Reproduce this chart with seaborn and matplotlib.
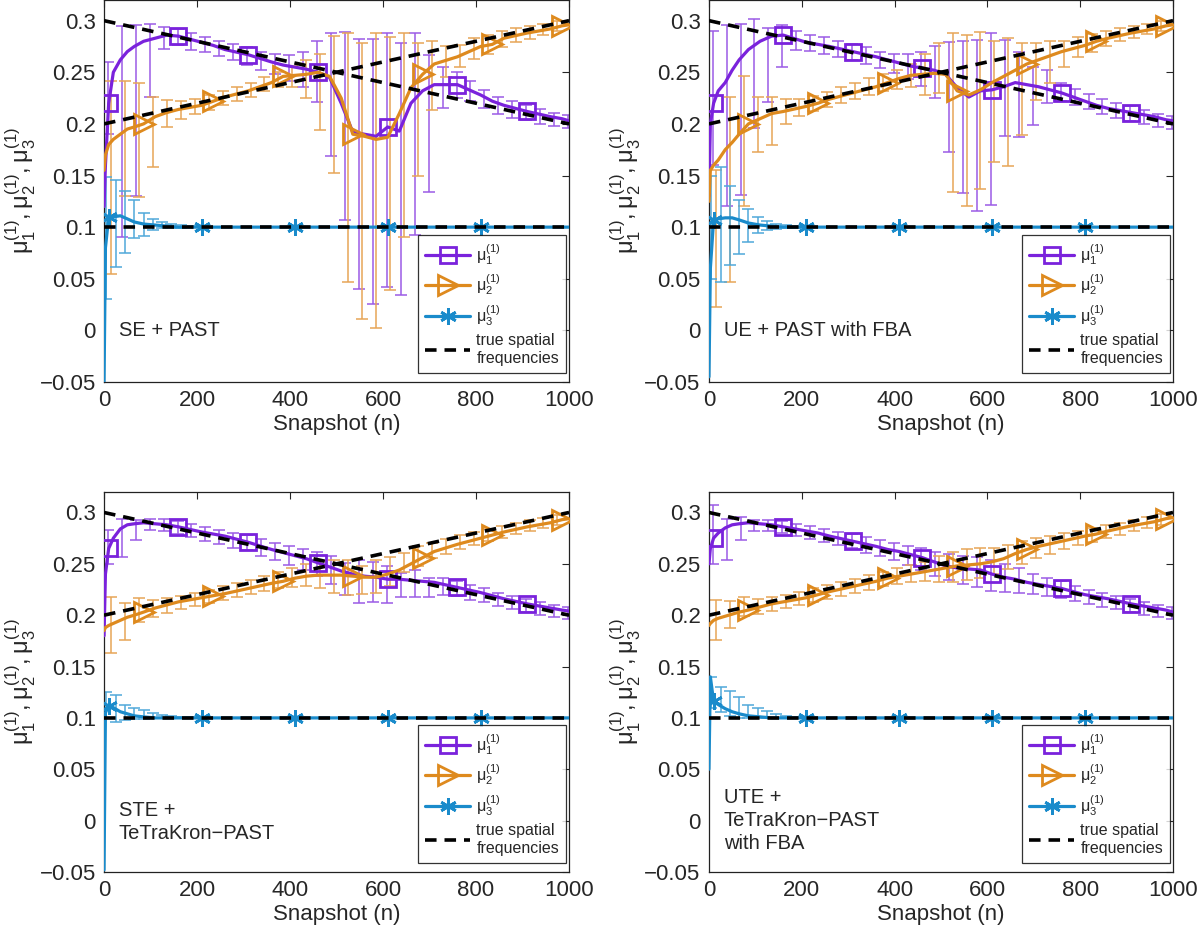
import numpy as np
import matplotlib
matplotlib.use("Agg")
import matplotlib.pyplot as plt
import seaborn as sns
from matplotlib.lines import Line2D
from matplotlib.ticker import FuncFormatter

# -------------------------------
# Data
# -------------------------------

# snapshot grid of the averaged estimates
snap = [0, 3, 10, 20, 35, 50, 65, 85, 110, 135, 160, 210, 235, 260, 310, 360, 385, 410, 435, 460,
        485, 510, 535, 560, 585, 610, 635, 660, 685, 710, 760, 810, 835, 860, 910, 960, 985, 1000]

# marker positions for each frequency
mk1_x = [10, 160, 310, 460, 610, 760, 910]
mk2_x = [85, 235, 385, 535, 685, 835, 985]
mk3_x = [10, 210, 410, 610, 810]

# true spatial frequencies
true_x = [0, 1000]
true_mu1 = [0.3, 0.2]
true_mu2 = [0.2, 0.3]
true_mu3 = [0.1, 0.1]

# SE + PAST
se_mu1 = [0.12, 0.16, 0.22, 0.25, 0.262, 0.27, 0.275, 0.28, 0.283, 0.286, 0.285, 0.279, 0.276, 0.272, 0.267, 0.26, 0.257, 0.255, 0.253, 0.25,
          0.245, 0.22, 0.192, 0.19, 0.188, 0.197, 0.193, 0.22, 0.232, 0.238, 0.238, 0.228, 0.222, 0.218, 0.212, 0.207, 0.205, 0.203]
se_mu2 = [0.155, 0.17, 0.18, 0.185, 0.19, 0.195, 0.197, 0.2, 0.207, 0.211, 0.214, 0.218, 0.222, 0.226, 0.232, 0.24, 0.246, 0.247, 0.248, 0.25,
          0.246, 0.225, 0.19, 0.188, 0.185, 0.187, 0.21, 0.235, 0.248, 0.258, 0.265, 0.275, 0.277, 0.283, 0.288, 0.292, 0.295, 0.296]
se_mu3 = [-0.05, 0.08, 0.11, 0.11, 0.111, 0.108, 0.105, 0.103, 0.102, 0.101, 0.1, 0.1, 0.1, 0.1, 0.1, 0.1, 0.1, 0.1, 0.1, 0.1,
          0.1, 0.1, 0.1, 0.1, 0.1, 0.1, 0.1, 0.1, 0.1, 0.1, 0.1, 0.1, 0.1, 0.1, 0.1, 0.1, 0.1, 0.1]

# UE + PAST with FBA
ue_mu1 = [0.13, 0.2, 0.22, 0.232, 0.24, 0.252, 0.262, 0.272, 0.28, 0.285, 0.286, 0.279, 0.277, 0.275, 0.27, 0.265, 0.262, 0.259, 0.256, 0.254,
          0.252, 0.248, 0.235, 0.226, 0.232, 0.233, 0.236, 0.24, 0.238, 0.236, 0.23, 0.222, 0.218, 0.215, 0.211, 0.207, 0.204, 0.203]
ue_mu2 = [0.125, 0.155, 0.16, 0.165, 0.175, 0.182, 0.19, 0.2, 0.205, 0.21, 0.212, 0.217, 0.22, 0.224, 0.23, 0.236, 0.24, 0.244, 0.247, 0.248,
          0.249, 0.248, 0.232, 0.228, 0.233, 0.24, 0.246, 0.252, 0.258, 0.262, 0.27, 0.276, 0.28, 0.283, 0.288, 0.292, 0.295, 0.296]
ue_mu3 = [-0.045, 0.06, 0.107, 0.108, 0.109, 0.109, 0.107, 0.104, 0.102, 0.101, 0.1, 0.1, 0.1, 0.1, 0.1, 0.1, 0.1, 0.1, 0.1, 0.1,
          0.1, 0.1, 0.1, 0.1, 0.1, 0.1, 0.1, 0.1, 0.1, 0.1, 0.1, 0.1, 0.1, 0.1, 0.1, 0.1, 0.1, 0.1]

# STE + TeTraKron-PAST
ste_mu1 = [0.18, 0.24, 0.265, 0.275, 0.284, 0.288, 0.289, 0.29, 0.289, 0.288, 0.286, 0.281, 0.279, 0.277, 0.271, 0.264, 0.261, 0.258, 0.255, 0.251,
           0.247, 0.243, 0.24, 0.238, 0.237, 0.235, 0.235, 0.234, 0.233, 0.232, 0.227, 0.222, 0.219, 0.216, 0.211, 0.207, 0.205, 0.204]
ste_mu2 = [0.185, 0.188, 0.19, 0.192, 0.195, 0.198, 0.2, 0.203, 0.207, 0.21, 0.213, 0.217, 0.219, 0.221, 0.226, 0.231, 0.233, 0.236, 0.238, 0.239,
           0.239, 0.239, 0.238, 0.237, 0.237, 0.24, 0.244, 0.25, 0.256, 0.262, 0.269, 0.275, 0.278, 0.281, 0.286, 0.29, 0.293, 0.294]
ste_mu3 = [-0.048, 0.105, 0.112, 0.11, 0.106, 0.104, 0.102, 0.101, 0.1, 0.1, 0.1, 0.1, 0.1, 0.1, 0.1, 0.1, 0.1, 0.1, 0.1, 0.1,
           0.1, 0.1, 0.1, 0.1, 0.1, 0.1, 0.1, 0.1, 0.1, 0.1, 0.1, 0.1, 0.1, 0.1, 0.1, 0.1, 0.1, 0.1]

# UTE + TeTraKron-PAST with FBA
ute_mu1 = [0.25, 0.265, 0.275, 0.28, 0.285, 0.288, 0.289, 0.29, 0.289, 0.288, 0.286, 0.282, 0.28, 0.277, 0.272, 0.267, 0.264, 0.262, 0.259, 0.256,
           0.252, 0.248, 0.246, 0.245, 0.244, 0.24, 0.237, 0.235, 0.232, 0.23, 0.226, 0.22, 0.218, 0.216, 0.211, 0.207, 0.205, 0.203]
ute_mu2 = [0.19, 0.192, 0.195, 0.197, 0.199, 0.201, 0.203, 0.205, 0.208, 0.211, 0.213, 0.217, 0.22, 0.223, 0.228, 0.233, 0.236, 0.238, 0.24, 0.242,
           0.244, 0.246, 0.248, 0.249, 0.25, 0.252, 0.255, 0.26, 0.264, 0.267, 0.272, 0.277, 0.279, 0.282, 0.287, 0.291, 0.294, 0.295]
ute_mu3 = [0.05, 0.14, 0.116, 0.113, 0.109, 0.106, 0.104, 0.102, 0.101, 0.1, 0.1, 0.1, 0.1, 0.1, 0.1, 0.1, 0.1, 0.1, 0.1, 0.1,
           0.1, 0.1, 0.1, 0.1, 0.1, 0.1, 0.1, 0.1, 0.1, 0.1, 0.1, 0.1, 0.1, 0.1, 0.1, 0.1, 0.1, 0.1]

# error bar positions
eb1_x = [8, 38, 68, 98, 128, 158, 188, 218, 248, 278, 308, 338, 368, 398, 428, 458, 488,
         518, 548, 578, 608, 638, 668, 698, 728, 758, 788, 818, 848, 878, 908, 938, 968, 998]
eb2_x = [15, 45, 75, 105, 135, 165, 195, 225, 255, 285, 315, 345, 375, 405, 435, 465, 495,
         525, 555, 585, 615, 645, 675, 705, 735, 765, 795, 825, 855, 885, 915, 945, 975]
eb3_x = [5, 25, 45, 65, 85, 105, 125, 145, 165, 185]

# error bar (low, high) ranges
se_e1 = [(0.19, 0.26), (0.09, 0.295), (0.13, 0.296), (0.226, 0.297), (0.273, 0.294), (0.276, 0.292), (0.272, 0.288),
         (0.27, 0.284), (0.266, 0.28), (0.262, 0.277), (0.257, 0.274), (0.252, 0.27), (0.248, 0.268), (0.242, 0.267),
         (0.236, 0.27), (0.221, 0.28), (0.169, 0.288), (0.107, 0.289), (0.04, 0.282), (0.026, 0.282), (0.042, 0.288),
         (0.034, 0.278), (0.092, 0.288), (0.134, 0.267), (0.215, 0.255), (0.225, 0.25), (0.222, 0.242), (0.215, 0.233),
         (0.21, 0.226), (0.206, 0.222), (0.204, 0.218), (0.2, 0.214), (0.198, 0.211), (0.196, 0.209)]
se_e2 = [(0.055, 0.242), (0.13, 0.242), (0.129, 0.24), (0.158, 0.226), (0.197, 0.223), (0.205, 0.222), (0.21, 0.224),
         (0.213, 0.228), (0.218, 0.232), (0.222, 0.236), (0.226, 0.24), (0.232, 0.245), (0.236, 0.25), (0.236, 0.256),
         (0.225, 0.262), (0.194, 0.268), (0.152, 0.285), (0.047, 0.288), (0.011, 0.278), (0.002, 0.288), (0.039, 0.284),
         (0.09, 0.288), (0.15, 0.278), (0.213, 0.28), (0.245, 0.275), (0.255, 0.276), (0.263, 0.283), (0.268, 0.286),
         (0.274, 0.29), (0.279, 0.293), (0.282, 0.295), (0.286, 0.297), (0.29, 0.3)]
se_e3 = [(0.03, 0.149), (0.061, 0.146), (0.075, 0.135), (0.089, 0.126), (0.091, 0.114), (0.097, 0.108),
         (0.099, 0.105), (0.099, 0.103), (0.0995, 0.102), (0.0998, 0.101)]

ue_e1 = [(0.16, 0.29), (0.12, 0.296), (0.131, 0.297), (0.196, 0.302), (0.221, 0.293), (0.255, 0.296), (0.272, 0.29),
         (0.271, 0.286), (0.268, 0.284), (0.265, 0.28), (0.262, 0.277), (0.258, 0.274), (0.254, 0.27), (0.249, 0.268),
         (0.243, 0.268), (0.237, 0.27), (0.225, 0.275), (0.173, 0.279), (0.133, 0.28), (0.116, 0.281), (0.121, 0.288),
         (0.188, 0.281), (0.187, 0.27), (0.199, 0.255), (0.22, 0.252), (0.222, 0.24), (0.218, 0.234), (0.214, 0.229),
         (0.21, 0.224), (0.206, 0.22), (0.203, 0.217), (0.2, 0.213), (0.197, 0.21), (0.195, 0.208)]
ue_e2 = [(0.023, 0.155), (0.047, 0.226), (0.12, 0.246), (0.173, 0.226), (0.18, 0.226), (0.2, 0.224), (0.208, 0.224),
         (0.212, 0.227), (0.216, 0.231), (0.22, 0.236), (0.224, 0.24), (0.228, 0.244), (0.232, 0.248), (0.234, 0.252),
         (0.236, 0.258), (0.228, 0.268), (0.23, 0.278), (0.134, 0.288), (0.12, 0.286), (0.137, 0.289), (0.163, 0.28),
         (0.159, 0.283), (0.189, 0.278), (0.223, 0.278), (0.24, 0.28), (0.255, 0.28), (0.265, 0.284), (0.27, 0.287),
         (0.275, 0.29), (0.28, 0.293), (0.283, 0.295), (0.287, 0.297), (0.29, 0.3)]
ue_e3 = [(0.05, 0.15), (0.047, 0.158), (0.063, 0.14), (0.074, 0.126), (0.086, 0.118), (0.094, 0.11),
         (0.097, 0.106), (0.098, 0.103), (0.099, 0.102), (0.0995, 0.101)]

ste_e1 = [(0.25, 0.283), (0.257, 0.294), (0.273, 0.293), (0.283, 0.294), (0.282, 0.294), (0.279, 0.292), (0.276, 0.289),
          (0.272, 0.286), (0.269, 0.283), (0.265, 0.28), (0.263, 0.278), (0.258, 0.274), (0.254, 0.27), (0.249, 0.267),
          (0.244, 0.264), (0.238, 0.262), (0.23, 0.258), (0.22, 0.251), (0.212, 0.254), (0.213, 0.252), (0.212, 0.248),
          (0.218, 0.241), (0.218, 0.244), (0.218, 0.236), (0.22, 0.236), (0.219, 0.233), (0.215, 0.229), (0.213, 0.226),
          (0.209, 0.222), (0.206, 0.219), (0.203, 0.216), (0.2, 0.213), (0.198, 0.21), (0.196, 0.208)]
ste_e2 = [(0.163, 0.218), (0.176, 0.212), (0.193, 0.217), (0.198, 0.215), (0.202, 0.217), (0.206, 0.219), (0.209, 0.222),
          (0.212, 0.225), (0.215, 0.228), (0.218, 0.231), (0.221, 0.234), (0.224, 0.238), (0.226, 0.242), (0.227, 0.246),
          (0.228, 0.25), (0.226, 0.253), (0.222, 0.254), (0.22, 0.254), (0.221, 0.248), (0.222, 0.254), (0.228, 0.257),
          (0.242, 0.261), (0.248, 0.267), (0.256, 0.27), (0.26, 0.274), (0.264, 0.278), (0.268, 0.281), (0.272, 0.284),
          (0.275, 0.287), (0.279, 0.29), (0.282, 0.293), (0.285, 0.295), (0.288, 0.298)]
ste_e3 = [(0.1, 0.125), (0.096, 0.122), (0.098, 0.113), (0.099, 0.11), (0.099, 0.108), (0.0995, 0.105),
          (0.0998, 0.103), (0.0999, 0.102), (0.1, 0.101), (0.1, 0.1005)]

ute_e1 = [(0.25, 0.307), (0.254, 0.294), (0.273, 0.296), (0.282, 0.293), (0.282, 0.293), (0.28, 0.292), (0.277, 0.289),
          (0.274, 0.287), (0.271, 0.284), (0.268, 0.281), (0.265, 0.279), (0.261, 0.276), (0.258, 0.273), (0.254, 0.27),
          (0.249, 0.267), (0.244, 0.265), (0.238, 0.262), (0.234, 0.26), (0.23, 0.258), (0.227, 0.257), (0.224, 0.254),
          (0.223, 0.25), (0.222, 0.246), (0.221, 0.24), (0.219, 0.236), (0.217, 0.233), (0.214, 0.228), (0.211, 0.225),
          (0.208, 0.222), (0.206, 0.219), (0.203, 0.216), (0.2, 0.213), (0.198, 0.21), (0.196, 0.208)]
ute_e2 = [(0.176, 0.215), (0.188, 0.214), (0.199, 0.218), (0.201, 0.216), (0.204, 0.218), (0.207, 0.22), (0.21, 0.223),
          (0.213, 0.226), (0.216, 0.229), (0.219, 0.232), (0.222, 0.235), (0.225, 0.239), (0.228, 0.242), (0.23, 0.246),
          (0.232, 0.249), (0.233, 0.252), (0.232, 0.258), (0.232, 0.262), (0.234, 0.264), (0.236, 0.265), (0.24, 0.265),
          (0.245, 0.268), (0.25, 0.272), (0.256, 0.275), (0.26, 0.277), (0.264, 0.28), (0.268, 0.282), (0.271, 0.285),
          (0.275, 0.288), (0.278, 0.29), (0.282, 0.293), (0.285, 0.296), (0.288, 0.299)]
ute_e3 = [(0.11, 0.14), (0.106, 0.13), (0.102, 0.126), (0.1, 0.12), (0.0995, 0.113), (0.0995, 0.11),
          (0.0998, 0.107), (0.0999, 0.104), (0.1, 0.102), (0.1, 0.101)]

titles = ["SE + PAST", "UE + PAST with FBA", "STE +\nTeTraKron\u2212PAST", "UTE +\nTeTraKron\u2212PAST\nwith FBA"]

# -------------------------------
# Style
# -------------------------------

sns.set_style("white")
plt.rcParams["font.family"] = ["Liberation Sans", "DejaVu Sans"]
plt.rcParams["mathtext.default"] = "regular"

c1, c2, c3 = "#7A22DC", "#DE8A1E", "#1A8BCB"
e1, e2, e3 = "#9B5BE6", "#E7A557", "#4FA8DA"
star = (6, 2, 0)
dash = (0, (3.2, 2.2))
lw = 2.3

fig = plt.figure(figsize=(12, 9.31), dpi=100)
boxes = [[0.0867, 0.5897, 0.3875, 0.4103], [0.5908, 0.5897, 0.3867, 0.4103],
         [0.0867, 0.0634, 0.3875, 0.4082], [0.5908, 0.0634, 0.3867, 0.4082]]

panels = [
    (se_mu1, se_mu2, se_mu3, se_e1, se_e2, se_e3),
    (ue_mu1, ue_mu2, ue_mu3, ue_e1, ue_e2, ue_e3),
    (ste_mu1, ste_mu2, ste_mu3, ste_e1, ste_e2, ste_e3),
    (ute_mu1, ute_mu2, ute_mu3, ute_e1, ute_e2, ute_e3),
]
text_y = [0.0, 0.0, -0.001, 0.0]


def draw_bars(ax, xs, pairs, col):
    pr = np.array(pairs)
    mid = (pr[:, 0] + pr[:, 1]) / 2
    half = (pr[:, 1] - pr[:, 0]) / 2
    ax.errorbar(xs, mid, yerr=half, fmt="none", ecolor=col, elinewidth=1.1, capsize=4, capthick=1.1, zorder=2)


for k, (m1, m2, m3, b1, b2, b3) in enumerate(panels):
    ax = fig.add_axes(boxes[k])

    draw_bars(ax, eb1_x, b1, e1)
    draw_bars(ax, eb2_x, b2, e2)
    draw_bars(ax, eb3_x, b3, e3)

    sns.lineplot(x=snap, y=m1, ax=ax, color=c1, lw=lw, marker="s", markevery=[snap.index(v) for v in mk1_x],
                 ms=11, mfc="none", mec=c1, mew=2.0, zorder=3)
    sns.lineplot(x=snap, y=m2, ax=ax, color=c2, lw=lw, marker=">", markevery=[snap.index(v) for v in mk2_x],
                 ms=14, mfc="none", mec=c2, mew=2.0, zorder=3)
    sns.lineplot(x=snap, y=m3, ax=ax, color=c3, lw=lw, marker=star, markevery=[snap.index(v) for v in mk3_x],
                 ms=12, mfc="none", mec=c3, mew=2.0, zorder=3)

    for ty in (true_mu1, true_mu2, true_mu3):
        sns.lineplot(x=true_x, y=ty, ax=ax, color="black", lw=2.6, linestyle=dash, zorder=4)

    ax.set_xlim(0, 1000)
    ax.set_ylim(-0.05, 0.32)
    ax.set_xticks([0, 200, 400, 600, 800, 1000])
    ax.set_yticks([-0.05, 0, 0.05, 0.1, 0.15, 0.2, 0.25, 0.3])
    ax.yaxis.set_major_formatter(FuncFormatter(lambda v, p: ("%g" % round(v, 3)).replace("-", "\u2212")))
    ax.tick_params(direction="in", length=5, width=0.8, labelsize=16, top=True, right=True, pad=6)
    for sp in ax.spines.values():
        sp.set_color("#222222")
        sp.set_linewidth(0.9)

    ax.set_xlabel("Snapshot (n)", fontsize=16, labelpad=2)
    ax.set_ylabel(r"$\mu_1^{(1)}, \mu_2^{(1)}, \mu_3^{(1)}$", fontsize=17, labelpad=1)

    ax.text(32, text_y[k], titles[k], fontsize=14.5, ha="left", va="center", linespacing=1.25)

    handles = [
        Line2D([], [], color=c1, lw=lw, marker="s", ms=11, mfc="none", mec=c1, mew=2.0),
        Line2D([], [], color=c2, lw=lw, marker=">", ms=14, mfc="none", mec=c2, mew=2.0),
        Line2D([], [], color=c3, lw=lw, marker=star, ms=12, mfc="none", mec=c3, mew=2.0),
        Line2D([], [], color="black", lw=2.6, linestyle=dash),
    ]
    labels = [r"$\mu_1^{(1)}$", r"$\mu_2^{(1)}$", r"$\mu_3^{(1)}$", "true spatial\nfrequencies"]
    leg = ax.legend(handles, labels, loc="lower right", bbox_to_anchor=(0.994, 0.024), borderaxespad=0,
                    fontsize=11.5, handlelength=2.8, handletextpad=0.4, labelspacing=0.35,
                    frameon=True, fancybox=False, edgecolor="black", borderpad=0.45)
    leg.get_frame().set_linewidth(0.9)

fig.savefig("out.png", dpi=100)
